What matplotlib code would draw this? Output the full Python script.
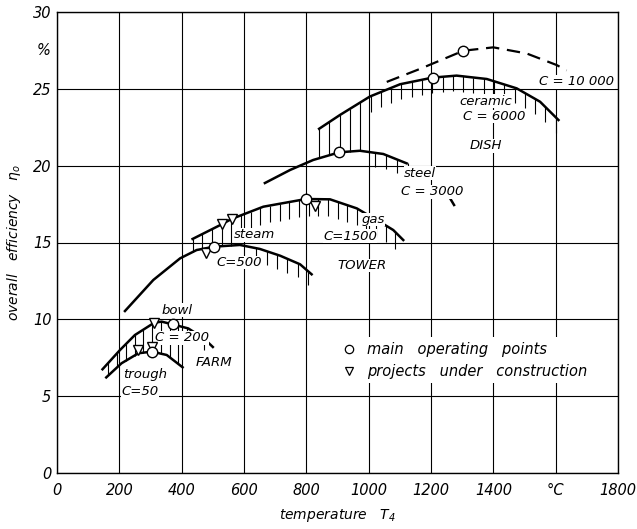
import numpy as np
import matplotlib
matplotlib.use("Agg")
import matplotlib.pyplot as plt
from matplotlib.lines import Line2D

plt.rcParams['font.family'] = ['DejaVu Sans']
plt.rcParams['font.style'] = 'italic'
plt.rcParams['mathtext.default'] = 'it'

# curves (temperature in degC, efficiency in %)
dish_hi_x = [1058, 1165, 1304, 1400, 1507, 1603, 1635]
dish_hi_y = [25.45, 26.3, 27.48, 27.7, 27.3, 26.55, 26.2]
ceramic_x = [841, 908, 1004, 1101, 1205, 1282, 1379, 1475, 1550, 1609]
ceramic_y = [22.4, 23.3, 24.5, 25.3, 25.73, 25.86, 25.64, 25.03, 24.16, 22.97]
steel_x = [667, 748, 822, 906, 972, 1047, 1122]
steel_y = [18.87, 19.72, 20.37, 20.87, 20.97, 20.76, 20.15]
steel_tail_x = [1251, 1274]
steel_tail_y = [18.22, 17.44]
gas_x = [435, 530, 560, 662, 799, 876, 962, 1058, 1079, 1111]
gas_y = [15.23, 16.2, 16.53, 17.33, 17.83, 17.81, 17.22, 16.07, 15.81, 15.16]
steam_x = [218, 309, 395, 448, 505, 587, 651, 716, 780, 817]
steam_y = [10.54, 12.56, 13.97, 14.51, 14.73, 14.84, 14.58, 14.14, 13.58, 12.93]
bowl_x = [146, 202, 250, 312, 336, 371, 421, 470, 500]
bowl_y = [6.75, 8.0, 8.98, 9.78, 9.85, 9.67, 9.41, 8.78, 8.2]
trough_x = [158, 207, 261, 304, 352, 403]
trough_y = [6.22, 7.14, 7.79, 7.90, 7.68, 6.88]

main_x = [1304, 1205, 906, 799, 505, 371, 304]
main_y = [27.48, 25.73, 20.87, 17.83, 14.73, 9.67, 7.90]
constr_x = [828, 530, 560, 478, 312, 259, 304]
constr_y = [17.40, 16.2, 16.53, 14.30, 9.78, 8.0, 8.22]

labels = ["bowl", "C = 200", "FARM", "trough", "C=50", "steam", "C=500",
          "gas", "C=1500", "TOWER", "steel", "C = 3000", "ceramic",
          "C = 6000", "DISH", "C = 10 000"]
label_x = [385, 401, 505, 283, 266, 635, 584, 1014, 940, 979, 1165, 1203,
           1376, 1402, 1376, 1668]
label_y = [10.6, 8.8, 7.2, 6.4, 5.3, 15.5, 13.7, 16.5, 15.4, 13.5, 19.5,
           18.3, 24.2, 23.2, 21.3, 25.45]

xticks = [0, 200, 400, 600, 800, 1000, 1200, 1400, 1600, 1800]
xticklabels = ["0", "200", "400", "600", "800", "1000", "1200", "1400", "°C", "1800"]
yticks = [0, 5, 10, 15, 20, 25, 30]

fig = plt.figure(figsize=(6.37, 5.29), dpi=100)
ax = fig.add_axes([57 / 637, 1 - 473 / 529, 561 / 637, 461 / 529])
ax.set_xlim(0, 1800)
ax.set_ylim(0, 30)

# grid
for v in xticks:
    ax.axvline(v, color='black', lw=0.8, zorder=1)
for v in yticks:
    ax.axhline(v, color='black', lw=0.8, zorder=1)
for s in ax.spines.values():
    s.set_linewidth(1.0)

ax.set_xticks(xticks)
ax.set_xticklabels(xticklabels)
ax.set_yticks(yticks)
ax.tick_params(length=0, labelsize=10.5)
ax.tick_params(axis='x', pad=7)
ax.tick_params(axis='y', pad=4)
ax.text(-0.012, 27.5, "%", transform=ax.get_yaxis_transform(), ha='right',
        va='center', fontsize=10.5)

ax.set_xlabel("temperature   $T_4$", fontsize=10, labelpad=7)
ax.set_ylabel("overall   efficiency   $\\eta_o$", fontsize=10, labelpad=7)


def hatch(cx, cy, start, stop, step, length, lx=None, ly=None, full_to=None):
    xs = np.arange(start, stop + 1, step)
    top = np.interp(xs, cx, cy)
    bot = top - length
    if lx is not None:
        low = np.interp(xs, lx, ly)
        bot = np.where(xs <= full_to, low, np.maximum(bot, low))
    ax.vlines(xs, bot, top, color='black', lw=0.8, zorder=2)


hatch(ceramic_x, ceramic_y, 841, 1600, 33, 1.0, steel_x, steel_y, 990)
hatch(steel_x, steel_y, 1020, 1125, 35, 0.9)
hatch(gas_x, gas_y, 435, 1111, 31, 1.1, steam_x, steam_y, 560)
hatch(steam_x, steam_y, 640, 817, 33, 0.9)
hatch(bowl_x, bowl_y, 165, 480, 28, 0.7, trough_x, trough_y, 403)

curve_kw = dict(color='black', lw=1.8, zorder=3)
ax.plot(dish_hi_x, dish_hi_y, ls=(0, (6, 3.5)), color='black', lw=1.6, zorder=3)
ax.plot(ceramic_x, ceramic_y, **curve_kw)
ax.plot(steel_x, steel_y, **curve_kw)
ax.plot(steel_tail_x, steel_tail_y, **curve_kw)
ax.plot(gas_x, gas_y, **curve_kw)
ax.plot(steam_x, steam_y, **curve_kw)
ax.plot(bowl_x, bowl_y, **curve_kw)
ax.plot(trough_x, trough_y, **curve_kw)

ax.plot(constr_x, constr_y, ls='none', marker='v', ms=6.5, mfc='white',
        mec='black', mew=1.0, zorder=5)
ax.plot(main_x, main_y, ls='none', marker='o', ms=7.5, mfc='white',
        mec='black', mew=1.0, zorder=6)

for t, x, y in zip(labels, label_x, label_y):
    ax.text(x, y, t, ha='center', va='center', fontsize=9.5, zorder=4,
            bbox=dict(facecolor='white', edgecolor='none', pad=0.3))

handles = [
    Line2D([], [], ls='none', marker='o', ms=6, mfc='white', mec='black', mew=0.9),
    Line2D([], [], ls='none', marker='v', ms=6, mfc='white', mec='black', mew=0.9),
]
leg = ax.legend(handles, ["main   operating   points",
                          "projects   under   construction"],
                loc='upper left', bbox_to_anchor=(0.49, 0.31), fontsize=10.5,
                frameon=True, fancybox=False, framealpha=1, edgecolor='none',
                handlelength=0.8, handletextpad=0.8, labelspacing=0.5,
                borderpad=0.3)
leg.set_zorder(7)

fig.savefig("out.png", dpi=100)
